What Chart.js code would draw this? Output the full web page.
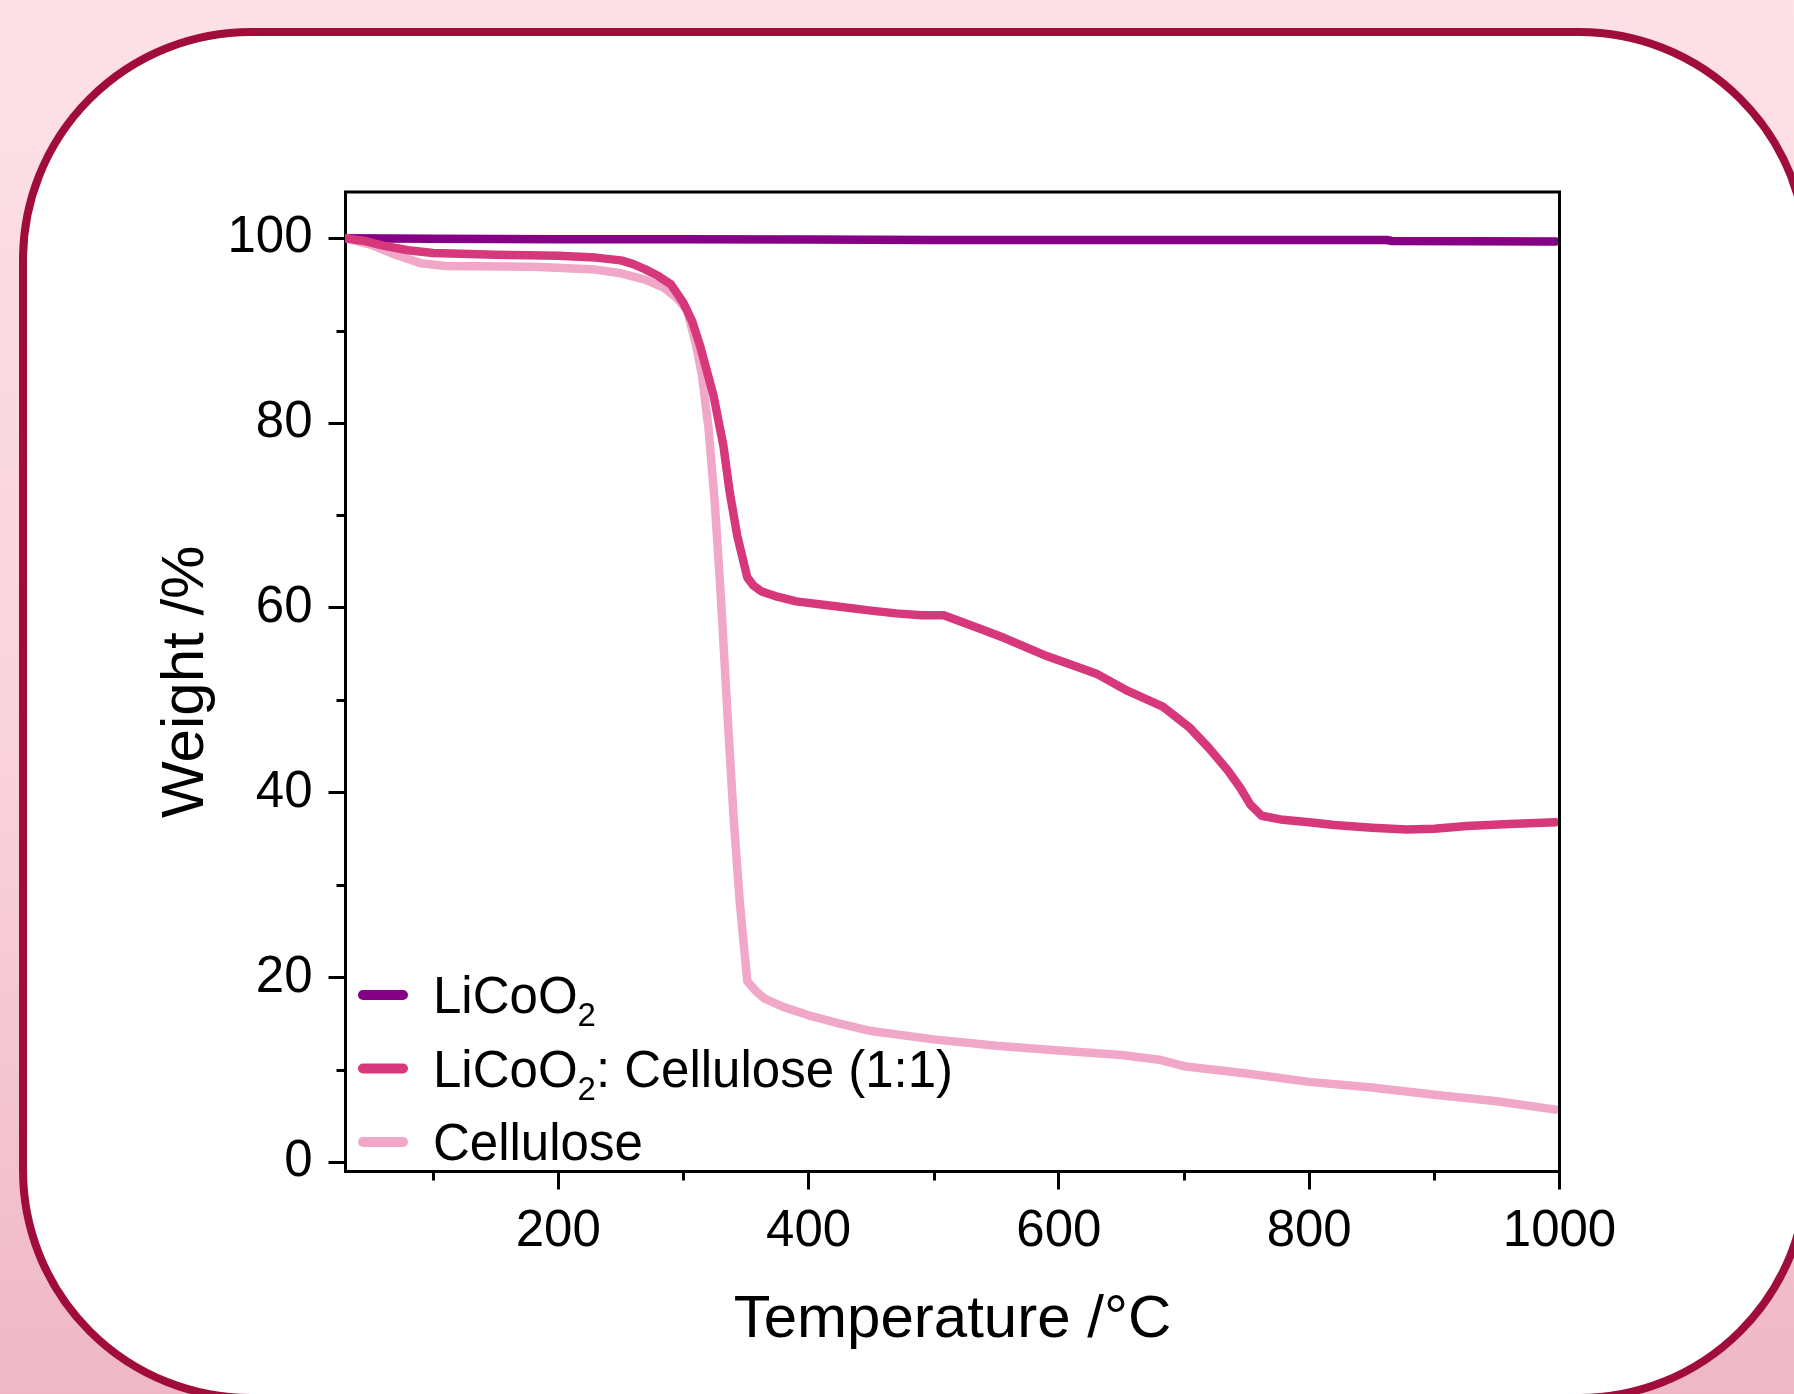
<!DOCTYPE html>
<html>
<head>
<meta charset="utf-8">
<script src="https://cdn.jsdelivr.net/npm/chart.js@4.4.0/dist/chart.umd.min.js"></script>
<style>
html, body { margin: 0; padding: 0; width: 1794px; height: 1394px; overflow: hidden;
  background: linear-gradient(180deg, #fde1e8 0%, #f9d2dc 55%, #efb7c8 100%); }
#frame { position: absolute; left: 19px; top: 28px; width: 1792px; height: 1374px; box-sizing: border-box;
  border: 8px solid #a10d3b; border-radius: 232px; background: #ffffff; }
#wrap { position: absolute; left: 0; top: 0; width: 1794px; height: 1394px; }
</style>
</head>
<body>
<div id="frame"></div>
<div id="wrap"><canvas id="c" width="1794" height="1394"></canvas></div>
<script>
// ---------------- data ----------------
const seriesLabels = ['LiCoO₂', 'LiCoO₂: Cellulose (1:1)', 'Cellulose'];

const tempLiCoO2   = [30, 100, 200, 300, 400, 500, 700, 862, 866, 997];
const weightLiCoO2 = [100, 99.95, 99.9, 99.9, 99.85, 99.8, 99.8, 99.8, 99.7, 99.65];

const tempMix   = [30, 45, 60, 80, 100, 150, 200, 230, 250, 260,
                   270, 280, 290, 300, 307, 313, 318, 324, 332, 337,
                   343, 351, 356, 362, 375, 390, 420, 450, 470, 490,
                   508, 536, 557, 588, 615, 631, 655, 683, 704, 720,
                   735, 745, 753, 762, 777, 800, 820, 850, 878, 900,
                   926, 960, 997];
const weightMix = [100, 99.7, 99.2, 98.7, 98.4, 98.2, 98.1, 97.9, 97.6, 97.2,
                   96.6, 95.9, 95.0, 93.0, 91.0, 88.5, 86.0, 83.0, 77.5, 72.5,
                   67.8, 63.3, 62.4, 61.8, 61.2, 60.7, 60.2, 59.7, 59.4, 59.2,
                   59.2, 57.8, 56.7, 54.9, 53.6, 52.8, 51.0, 49.3, 47.1, 44.8,
                   42.4, 40.5, 38.7, 37.5, 37.1, 36.8, 36.5, 36.2, 36.0, 36.1,
                   36.4, 36.6, 36.8];

const tempCell   = [30, 50, 70, 90, 110, 180, 230, 250, 270, 285,
                    295, 303, 310, 315, 320, 325, 330, 335, 340, 345,
                    351, 358, 365, 380, 400, 425, 450, 500, 550, 600,
                    650, 680, 700, 750, 800, 850, 900, 950, 997];
const weightCell = [100, 99.3, 98.2, 97.3, 97.0, 96.9, 96.6, 96.2, 95.5, 94.6,
                    93.5, 92.2, 88.5, 85.0, 79.5, 71.5, 61.0, 49.0, 37.5, 28.2,
                    19.6, 18.5, 17.7, 16.8, 15.9, 15.0, 14.2, 13.3, 12.6, 12.1,
                    11.6, 11.1, 10.4, 9.6, 8.7, 8.1, 7.3, 6.6, 5.7];

const xMajorTicks = [200, 400, 600, 800, 1000];
const xMinorTicks = [100, 300, 500, 700, 900];
const yMajorTicks = [0, 20, 40, 60, 80, 100];
const yMinorTicks = [10, 30, 50, 70, 90];
const xTitle = 'Temperature /°C';
const yTitle = 'Weight /%';

// ---------------- chart ----------------
const FONT = '"Liberation Sans", Arial, Helvetica, sans-serif';
const colors = ['#860086', '#d6387b', '#f0a7c8'];

function pts(xs, ys) { return xs.map((x, i) => ({ x: x, y: ys[i] })); }

const decorPlugin = {
  id: 'decor',
  afterDraw(chart) {
    const ctx = chart.ctx;
    const a = chart.chartArea;
    const xs = chart.scales.x, ys = chart.scales.y;
    ctx.save();
    ctx.strokeStyle = '#000';
    ctx.lineWidth = 3;
    ctx.lineCap = 'butt';
    // top & right frame
    ctx.beginPath();
    ctx.moveTo(a.left - 1.5, a.top);
    ctx.lineTo(a.right, a.top);
    ctx.lineTo(a.right, a.bottom + 1.5);
    ctx.stroke();
    // minor ticks
    ctx.beginPath();
    xMinorTicks.forEach(v => {
      const px = Math.round(xs.getPixelForValue(v)) + 0.5;
      ctx.moveTo(px, a.bottom);
      ctx.lineTo(px, a.bottom + 9);
    });
    yMinorTicks.forEach(v => {
      const py = Math.round(ys.getPixelForValue(v)) + 0.5;
      ctx.moveTo(a.left, py);
      ctx.lineTo(a.left - 9, py);
    });
    ctx.stroke();

    // legend
    const rows = [995, 1068.5, 1142];
    const order = [0, 1, 2];
    order.forEach((di, r) => {
      const ds = chart.data.datasets[di];
      const y = rows[r];
      ctx.strokeStyle = ds.borderColor;
      ctx.lineWidth = 10;
      ctx.lineCap = 'round';
      ctx.beginPath();
      ctx.moveTo(363, y);
      ctx.lineTo(403, y);
      ctx.stroke();
      // text with subscript handling
      let x = 433;
      const base = y + 18;
      ctx.fillStyle = '#000';
      ctx.textBaseline = 'alphabetic';
      ctx.textAlign = 'left';
      const parts = ds.label.split(/(₂)/);
      parts.forEach(p => {
        if (!p) return;
        if (p === '₂') {
          ctx.font = '33px ' + FONT;
          ctx.fillText('2', x, base + 13);
          x += ctx.measureText('2').width;
        } else {
          ctx.font = '51px ' + FONT;
          ctx.fillText(p, x, base);
          x += ctx.measureText(p).width;
        }
      });
    });
    ctx.restore();
  }
};

new Chart(document.getElementById('c'), {
  type: 'line',
  data: {
    datasets: [
      { label: seriesLabels[0], data: pts(tempLiCoO2, weightLiCoO2), borderColor: colors[0], backgroundColor: colors[0], order: 2 },
      { label: seriesLabels[1], data: pts(tempMix, weightMix), borderColor: colors[1], backgroundColor: colors[1], order: 0 },
      { label: seriesLabels[2], data: pts(tempCell, weightCell), borderColor: colors[2], backgroundColor: colors[2], order: 1 }
    ]
  },
  options: {
    responsive: false,
    animation: false,
    layout: { padding: { top: 192, right: 234.5, left: 0, bottom: 0 } },
    plugins: { legend: { display: false }, tooltip: { enabled: false } },
    elements: {
      point: { radius: 0 },
      line: { borderWidth: 8.5, tension: 0, borderCapStyle: 'round', borderJoinStyle: 'round', fill: false }
    },
    scales: {
      x: {
        type: 'linear', min: 30, max: 1000, bounds: 'data',
        afterBuildTicks: s => { s.ticks = xMajorTicks.map(v => ({ value: v })); },
        afterFit: s => { s.height = 222.5; },
        grid: { drawOnChartArea: false, drawTicks: true, tickLength: 18, tickWidth: 3, tickColor: '#000' },
        border: { display: true, color: '#000', width: 3 },
        ticks: { color: '#000', font: { size: 51, family: FONT }, padding: 12, maxRotation: 0, autoSkip: false,
                 callback: v => String(v) },
        title: { display: true, text: xTitle, color: '#000', font: { size: 60, family: FONT }, padding: { top: 0, bottom: 38 } }
      },
      y: {
        type: 'linear', min: -1, max: 105, bounds: 'data',
        afterBuildTicks: s => { s.ticks = yMajorTicks.map(v => ({ value: v })); },
        afterFit: s => { s.width = 345.5; },
        grid: { drawOnChartArea: false, drawTicks: true, tickLength: 17, tickWidth: 3, tickColor: '#000' },
        border: { display: true, color: '#000', width: 3 },
        ticks: { color: '#000', font: { size: 51, family: FONT }, padding: 16, autoSkip: false,
                 callback: v => String(v) },
        title: { display: true, text: yTitle, color: '#000', font: { size: 60, family: FONT }, padding: { top: 150, bottom: 0 } }
      }
    }
  },
  plugins: [decorPlugin]
});
</script>
</body>
</html>
